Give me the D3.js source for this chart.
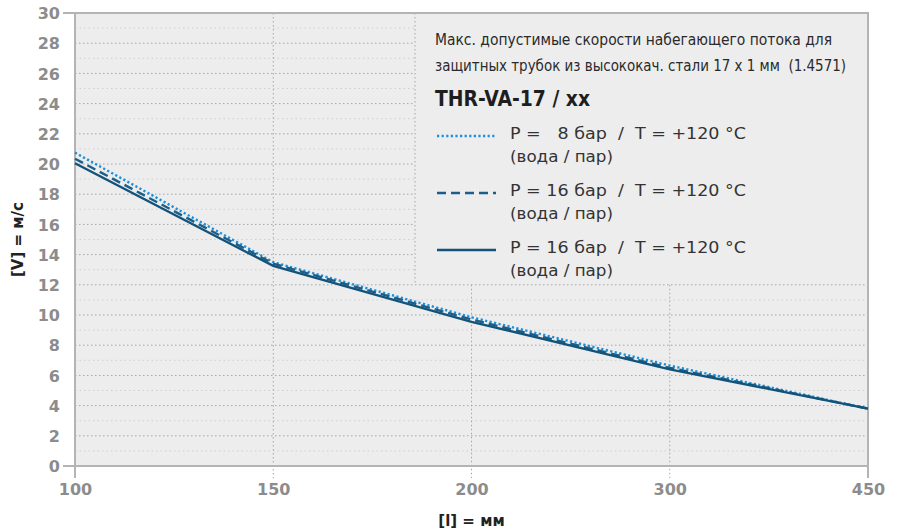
<!DOCTYPE html>
<html>
<head>
<meta charset="utf-8">
<script src="https://cdn.jsdelivr.net/npm/d3@7"></script>
<style>
  html, body { margin: 0; padding: 0; background: #fff; }
  svg { display: block; }
  text { white-space: pre; }
</style>
</head>
<body>
<svg id="chart" width="902" height="531"></svg>
<script>
// ---- data ----
const lengths = ["100", "150", "200", "300", "450"];
const v8barDotted = [20.75, 13.5, 9.85, 6.65, 3.8];
const v16barDashed = [20.35, 13.4, 9.7, 6.5, 3.8];
const v16barSolid = [20.05, 13.25, 9.55, 6.4, 3.8];
const yTickValues = [0, 2, 4, 6, 8, 10, 12, 14, 16, 18, 20, 22, 24, 26, 28, 30];
const legendTitle1 = "Макс. допустимые скорости набегающего потока для";
const legendTitle2 = "защитных трубок из высококач. стали 17 x 1 мм  (1.4571)";
const legendHeader = "THR-VA-17 / xx";
const seriesLabels = [
  ["P =\u00A0\u00A0 8 бар  /  T = +120 °C", "(вода / пар)"],
  ["P = 16 бар  /  T = +120 °C", "(вода / пар)"],
  ["P = 16 бар  /  T = +120 °C", "(вода / пар)"]
];
const xTitle = "[l] = мм";
const yTitle = "[V] = м/с";

// ---- layout ----
const L = 75, R = 868, T = 13, B = 466;
const svg = d3.select("#chart");

const x = d3.scalePoint().domain(lengths).range([L, R]);
const y = d3.scaleLinear().domain([0, 30]).range([B, T]);

const legendLeft = 415;
const legendBottomVal = 12;

// plot background
svg.append("rect").attr("x", L).attr("y", T).attr("width", R - L).attr("height", B - T)
  .attr("fill", "#ededed");

// horizontal grid
const g = svg.append("g");
d3.range(1, 30).forEach(v => {
  const major = v % 2 === 0;
  g.append("line")
    .attr("x1", L).attr("x2", v > legendBottomVal ? legendLeft : R)
    .attr("y1", y(v)).attr("y2", y(v))
    .attr("stroke", major ? "#a6a6a6" : "#cfcfcf")
    .attr("stroke-width", 1)
    .attr("stroke-dasharray", major ? "1.5,2.5" : "1.5,3");
});
// vertical grid
["150", "200", "300"].forEach(c => {
  const xx = x(c);
  g.append("line")
    .attr("x1", xx).attr("x2", xx)
    .attr("y1", xx > legendLeft ? y(legendBottomVal) : T).attr("y2", B + 12)
    .attr("stroke", "#a6a6a6").attr("stroke-width", 1)
    .attr("stroke-dasharray", "1.5,2.5");
});
// legend box left border
g.append("line")
  .attr("x1", legendLeft).attr("x2", legendLeft)
  .attr("y1", T).attr("y2", y(legendBottomVal))
  .attr("stroke", "#a6a6a6").attr("stroke-width", 1)
  .attr("stroke-dasharray", "1.5,2.5");

// frame
const frame = svg.append("g").attr("stroke", "#b4b4b4").attr("stroke-width", 2);
frame.append("line").attr("x1", L - 12).attr("x2", R + 1).attr("y1", T).attr("y2", T);
frame.append("line").attr("x1", L - 12).attr("x2", R + 1).attr("y1", B).attr("y2", B);
frame.append("line").attr("x1", L).attr("x2", L).attr("y1", T).attr("y2", B + 12);
frame.append("line").attr("x1", R).attr("x2", R).attr("y1", T - 1).attr("y2", B + 12);

// axes (labels only)
const yAxis = svg.append("g").attr("transform", `translate(${L},0)`)
  .call(d3.axisLeft(y).tickValues(yTickValues).tickSize(0).tickPadding(15));
yAxis.select(".domain").remove();
yAxis.selectAll("text")
  .attr("fill", "#8c8c8c").attr("font-family", "DejaVu Sans").attr("font-weight", "bold")
  .attr("font-size", "16px").attr("dy", "0.36em");

const xAxis = svg.append("g").attr("transform", `translate(0,${B})`)
  .call(d3.axisBottom(x).tickSize(0).tickPadding(18));
xAxis.select(".domain").remove();
xAxis.selectAll("text")
  .attr("fill", "#8c8c8c").attr("font-family", "DejaVu Sans").attr("font-weight", "bold")
  .attr("font-size", "16px");

// axis titles
svg.append("text").attr("x", (L + R) / 2).attr("y", 526).attr("text-anchor", "middle")
  .attr("font-family", "DejaVu Sans").attr("font-weight", "bold").attr("font-size", "15px")
  .attr("fill", "#222").text(xTitle);
svg.append("text").attr("transform", `translate(23,${(T + B) / 2}) rotate(-90)`)
  .attr("text-anchor", "middle")
  .attr("font-family", "DejaVu Sans").attr("font-weight", "bold").attr("font-size", "15px")
  .attr("fill", "#222").text(yTitle);

// series
const styles = [
  { values: v8barDotted, color: "#1b8fd9", dash: "2.2,2.4", width: 2.4 },
  { values: v16barDashed, color: "#1c5e8b", dash: "9,5", width: 2.4 },
  { values: v16barSolid, color: "#135379", dash: null, width: 2.4 }
];
const line = d3.line().x(d => x(d.l)).y(d => y(d.v));
styles.forEach(s => {
  const data = lengths.map((l, i) => ({ l, v: s.values[i] }));
  svg.append("path").datum(data).attr("d", line)
    .attr("fill", "none").attr("stroke", s.color).attr("stroke-width", s.width)
    .attr("stroke-dasharray", s.dash);
});

// legend text
const lg = svg.append("g");
lg.append("text").attr("x", 435).attr("y", 45)
  .attr("font-family", "DejaVu Sans Condensed, DejaVu Sans").attr("font-stretch", "condensed")
  .attr("font-size", "16.5px").attr("fill", "#2a2a2a")
  .attr("textLength", 397).attr("lengthAdjust", "spacingAndGlyphs").text(legendTitle1);
lg.append("text").attr("x", 435).attr("y", 71)
  .attr("font-family", "DejaVu Sans Condensed, DejaVu Sans").attr("font-stretch", "condensed")
  .attr("font-size", "16.5px").attr("fill", "#2a2a2a")
  .attr("textLength", 411).attr("lengthAdjust", "spacingAndGlyphs").text(legendTitle2);
lg.append("text").attr("x", 435).attr("y", 106)
  .attr("font-family", "DejaVu Sans Condensed, DejaVu Sans").attr("font-weight", "bold")
  .attr("font-size", "21px").attr("fill", "#1e1e1e")
  .attr("textLength", 155).attr("lengthAdjust", "spacingAndGlyphs").text(legendHeader);

const entryY = [136, 193, 250];
styles.forEach((s, i) => {
  lg.append("line").attr("x1", 437).attr("x2", 496).attr("y1", entryY[i]).attr("y2", entryY[i])
    .attr("stroke", s.color).attr("stroke-width", s.width).attr("stroke-dasharray", s.dash);
  lg.append("text").attr("x", 510).attr("y", entryY[i] + 3)
    .attr("font-family", "DejaVu Sans").attr("font-size", "16.5px").attr("fill", "#333")
    .attr("textLength", 236).attr("lengthAdjust", "spacingAndGlyphs").text(seriesLabels[i][0]);
  lg.append("text").attr("x", 510).attr("y", entryY[i] + 26)
    .attr("font-family", "DejaVu Sans").attr("font-size", "16.5px").attr("fill", "#333")
    .attr("textLength", 103).attr("lengthAdjust", "spacingAndGlyphs").text(seriesLabels[i][1]);
});
</script>
</body>
</html>
